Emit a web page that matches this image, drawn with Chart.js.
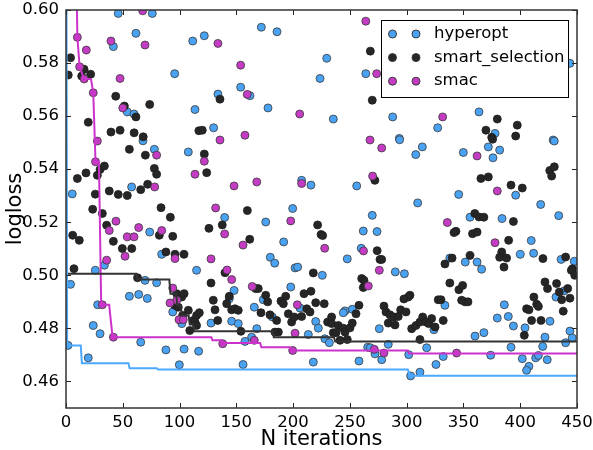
<!DOCTYPE html>
<html>
<head>
<meta charset="utf-8">
<script src="https://cdn.jsdelivr.net/npm/chart.js@4.4.1/dist/chart.umd.min.js"></script>
<style>
  html, body { margin: 0; padding: 0; background: #fff; }
  #wrap { width: 593px; height: 450px; position: relative; }
</style>
</head>
<body>
<div id="wrap"><canvas id="chart" width="593" height="450"></canvas></div>
<script>
// [iteration, logloss]
const hyperopt = [
  [46,0.5987],[76,0.5987],[61.6,0.5912],[111.6,0.5883],[41.7,0.5862],[95.7,0.576],[54,0.5616],[59.9,0.5608],[113.6,0.5625],
  [172,0.5935],[185.8,0.5918],[121.8,0.5903],[229.6,0.5818],[223.7,0.5742],[153.8,0.5709],[133.8,0.5683],[162,0.5677],[177.9,0.5631],[235.4,0.5589],[130,0.5556],
  [264,0.576],[287.7,0.5597],[327.3,0.5556],[293.5,0.5516],
  [443.8,0.5799],[363.7,0.5616],[377.8,0.5535],[429,0.551],
  [67.8,0.5507],[77.8,0.5475],[107.7,0.5465],[5.5,0.5307],[57.8,0.5333],[73.7,0.5163],[84.3,0.5079],[33.8,0.5038],[25.8,0.5019],[115,0.5019],
  [207.5,0.5358],[215.7,0.534],[199.6,0.5252],[139.7,0.5218],[175.9,0.5201],[191.7,0.5126],[179.9,0.5068],[183.8,0.5046],[201.7,0.5028],[204,0.5031],[225.7,0.5],
  [293.8,0.5511],[313.8,0.5484],[308,0.5455],[349.9,0.5463],[256,0.5337],[345.8,0.5305],[309.7,0.5273],[269.7,0.5226],[355.8,0.5219],[261.8,0.5167],[273.9,0.5165],
  [260,0.5102],[247.7,0.5062],[338,0.5065],[351.6,0.505],[290,0.5013],[298,0.5006],
  [430,0.5506],[371.9,0.5484],[381.9,0.5472],[376,0.5443],[396,0.5302],[418,0.5267],[433.9,0.5225],[384,0.5214],[409.7,0.5131],[400,0.5079],[411.8,0.5083],
  [362,0.505],[366,0.5023],[436,0.506],[447.6,0.5053],
  [69.6,0.4981],[79.8,0.4972],[4,0.4966],[55.8,0.4921],[64,0.4928],[71.6,0.4913],[94,0.4862],[102,0.4818],[24,0.4811],[30,0.478],[27.9,0.4889],
  [65.8,0.4748],[1.8,0.4736],[19.6,0.4689],[88,0.4719],[104,0.4722],[116.8,0.4714],[99.8,0.4663],
  [143.8,0.4912],[148,0.4943],[173.7,0.4908],[165.8,0.488],[181.7,0.4843],[197.9,0.4956],[206,0.4877],[219.9,0.4826],
  [222.2,0.4801],[228,0.4761],[231.9,0.4746],[168,0.4799],[163.5,0.4767],[157.6,0.4751],[213.4,0.4777],[155.9,0.4664],[217.8,0.4673],
  [127.7,0.482],[145.9,0.4827],[151.7,0.4818],
  [333.7,0.4887],[252.1,0.4872],[245.7,0.4866],[244.2,0.4859],[275.9,0.4799],[324,0.4795],[283.8,0.474],[317.6,0.4727],[265.7,0.4729],[268,0.4727],
  [272.1,0.4704],[278,0.4682],[258,0.4677],[301.8,0.4701],[332.2,0.4694],[325.8,0.4664],[311.7,0.4635],[303.5,0.4621],
  [431.5,0.4918],[438.5,0.4941],[426.2,0.4827],[404.2,0.4802],[421.8,0.4767],[419.8,0.4732],[443.8,0.479],[445.8,0.4764],[440,0.4746],[394,0.4809],
  [389.5,0.4845],[386,0.4889],[379.8,0.4839],[368,0.4784],[360.2,0.4771],[391.9,0.4729],[374,0.4699],[401.8,0.4686],[413.6,0.4689],[416,0.4698],
  [423.8,0.4682],[407.7,0.4657],[405.6,0.4642]
];

const smartSelection = [
  [4,0.582],[2,0.5755],[15.9,0.5777],[21.7,0.5758],[13.8,0.5751],[43.8,0.5675],[73.7,0.5644],[51.4,0.5638],[61.6,0.5597],[19.6,0.5577],
  [39.6,0.554],[47.6,0.5547],[60,0.5537],[68,0.5522],[117,0.5545],[135.6,0.5664],[120,0.5547],[268,0.5845],[269.7,0.566],
  [379.8,0.5589],[369.8,0.5547],[397.4,0.5566],[396,0.5525],[374.9,0.552],
  [55.8,0.5475],[69.9,0.5453],[30,0.5399],[33.8,0.5412],[27.6,0.5377],[17.6,0.5386],[10,0.5365],[77.8,0.5403],[79.8,0.5381],[71.9,0.5343],
  [65.8,0.5323],[38.1,0.5318],[46,0.5305],[54,0.5301],[25.8,0.5306],[23.5,0.5249],[83.7,0.5255],[32,0.5233],[91.9,0.5219],[35.8,0.5189],
  [82.2,0.5151],[94,0.5147],[5.9,0.5151],[11.7,0.5132],[41.7,0.5128],[49.6,0.5101],[57.9,0.5101],[88,0.5088],[96,0.5079],[103.9,0.5079],[7,0.5025],
  [121.8,0.5457],[123.9,0.5387],[159.7,0.5244],[137.6,0.519],[125.9,0.5177],[221.6,0.519],[161.8,0.5136],[224.6,0.5154],[226,0.515],[140,0.501],[217.8,0.5009],
  [272,0.5358],[343.4,0.5166],[341.7,0.5161],[274,0.5093],[276.5,0.506],[278,0.506],[340,0.5065],[333.7,0.5043],[355.8,0.5075],
  [375.7,0.5513],[426,0.5395],[430,0.5409],[427.7,0.5374],[365.4,0.5365],[371.9,0.5371],[391.9,0.534],[401.8,0.5329],[360,0.5233],[363.7,0.522],
  [368,0.5219],[394,0.5203],[358,0.5157],[362,0.5163],[389.8,0.5132],[383.7,0.5088],[381.9,0.5068],[388,0.5065],[420,0.5063],[385.7,0.5031],
  [440,0.5069],[446,0.5025],
  [63,0.4991],[97.5,0.4931],[101.9,0.4918],[104,0.4931],[96,0.4887],[98.9,0.488],[107.7,0.4868],[102.7,0.4849],[112,0.483],[115,0.4849],[109,0.4792],
  [127.7,0.4971],[129.7,0.4906],[131.2,0.487],[117.4,0.4859],[141.5,0.4893],[145.9,0.487],[148.8,0.4874],[151.7,0.4868],[167,0.495],[169.3,0.495],
  [175.9,0.4925],[177.6,0.49],[171.7,0.4859],[179.6,0.4851],[185.5,0.483],[189.3,0.4903],[191.4,0.4893],[193.5,0.4921],[195.8,0.4855],[198.7,0.4824],
  [207.5,0.4845],[201,0.4843],[209.6,0.4931],[215.7,0.494],[212,0.4874],[214.9,0.4862],[219.9,0.4897],[227.4,0.4893],[230.4,0.4824],[233.9,0.4843],
  [235.4,0.4784],[187,0.4786],[184,0.4786],[154,0.4789],[113.6,0.4824],[115,0.4811],[133.6,0.483],[143.8,0.4921],
  [260.4,0.4988],[262.4,0.4981],[261.8,0.4954],[338,0.4971],[346,0.4946],[349.3,0.4962],[351.4,0.49],[348.4,0.4906],[327.8,0.4908],[330.2,0.4908],
  [302.9,0.4925],[301.4,0.4918],[297.6,0.4911],[280,0.4884],[281.8,0.4862],[285.3,0.4851],[288.8,0.4843],[292.6,0.4845],[294.7,0.487],[299.4,0.4862],
  [283.8,0.482],[289.7,0.4813],[258,0.4887],[255.4,0.4855],[234,0.4818],[239.8,0.4811],[244.2,0.4801],[250.1,0.4802],[252.1,0.482],[237.8,0.4784],
  [245.7,0.4786],[241.3,0.4755],[247.7,0.4758],[311.7,0.4758],[304.4,0.4799],[308.2,0.4811],[311.7,0.4824],[314.1,0.4843],[317,0.4824],[319.4,0.4818],
  [322,0.4837],[325,0.4805],[332.2,0.483],
  [445,0.5019],[448,0.5],[354,0.49],[421.8,0.4975],[424,0.495],[432,0.4969],[434.4,0.4937],[441.8,0.495],[436.5,0.4908],[443.8,0.4914],[437.9,0.4865],
  [412,0.4918],[414.5,0.4891],[416,0.4883],[405.6,0.4874],[407.7,0.487],[410,0.483],[418.3,0.483],[403.6,0.4774]
];

const smac = [
  [67.5,0.5997],[39.6,0.5883],[69.6,0.5868],[17.9,0.5849],[12,0.5786],[47.6,0.5742],[16,0.574],[24,0.5688],[50,0.5631],[27.6,0.5506],[10,0.5897],
  [133.8,0.5874],[153.8,0.5792],[159.6,0.5682],[205.8,0.5608],[157.6,0.5528],[135.6,0.551],
  [264,0.5958],[273.6,0.576],[331.7,0.5597],[267.7,0.551],
  [79.8,0.5453],[26,0.5428],[113.6,0.5381],[78.1,0.5333],[44,0.5204],[64,0.518],[38.1,0.5169],[84.3,0.5169],[54,0.5145],[59.9,0.5145],
  [52,0.5072],[96,0.5063],[35.8,0.5057],
  [121.8,0.543],[148,0.5337],[168,0.5352],[207.5,0.5346],[131.8,0.5254],[197.9,0.5205],[139.7,0.5156],[155.9,0.5114],[227.8,0.5102],[127.7,0.5062],[141.8,0.502],
  [278,0.548],[270,0.5374],[335.8,0.5199],[262,0.5092],[275.9,0.5019],
  [362,0.545],[379.8,0.5318],[377.8,0.5123],
  [94,0.4952],[97.5,0.4906],[91.6,0.4896],[99.5,0.4833],[103.3,0.4833],[32,0.4889],[41.7,0.4767],
  [145.9,0.4984],[164,0.4958],[203.7,0.4889],[165.8,0.4755],[138,0.4742],[201.7,0.4782],[199.6,0.4717],
  [266.2,0.496],[271.5,0.4721],[280,0.4707],[344,0.4707]
];

// best-so-far curves
const bestHyperopt = [
  [0,0.70],[1,0.4736],[13,0.4736],[14,0.4669],[55,0.4669],[56,0.465],[80,0.465],[81,0.4645],[301,0.4645],[303,0.4622],[450,0.4622]
];
const bestSmart = [
  [0,0.5006],[62,0.5006],[63,0.4984],[91,0.4984],[92,0.4931],[97,0.4931],[98,0.4887],[101,0.4887],[102,0.4849],[108,0.4849],
  [109,0.4815],[112,0.4815],[113,0.4789],[182,0.4789],[183,0.4767],[236,0.4767],[237,0.4751],[450,0.4751]
];
const bestSmac = [
  [0,0.70],[9,0.62],[10,0.5897],[12,0.5786],[16,0.574],[22,0.574],[24,0.5688],[26,0.5428],[29,0.5428],[31,0.4889],[38,0.4889],
  [41,0.4767],[128,0.4767],[129,0.4755],[137,0.4755],[138,0.4745],[171,0.4745],[172,0.4729],[197,0.4729],[198,0.4717],[301,0.4717],[302,0.4705],[450,0.4705]
];

const xTicks = [0, 50, 100, 150, 200, 250, 300, 350, 400, 450];
const yTicks = [0.46, 0.48, 0.50, 0.52, 0.54, 0.56, 0.58, 0.60];
const seriesNames = ['hyperopt', 'smart_selection', 'smac'];

const BLUE = '#4aa2f2';
const DARK = '#262626';
const MAGENTA = '#c43cc4';
const EDGE = '#3a3a3a';

const toXY = arr => arr.map(p => ({ x: p[0], y: p[1] }));

// inward ticks on all four sides + frame
const frameTicks = {
  id: 'frameTicks',
  afterDatasetsDraw(chart) {
    const { ctx, chartArea: a, scales } = chart;
    ctx.save();
    ctx.strokeStyle = '#222';
    ctx.lineWidth = 1;
    const L = 5;
    xTicks.forEach(v => {
      const x = Math.round(scales.x.getPixelForValue(v)) + 0.5;
      ctx.beginPath();
      ctx.moveTo(x, a.bottom); ctx.lineTo(x, a.bottom - L);
      ctx.moveTo(x, a.top); ctx.lineTo(x, a.top + L);
      ctx.stroke();
    });
    yTicks.forEach(v => {
      const y = Math.round(scales.y.getPixelForValue(v)) + 0.5;
      ctx.beginPath();
      ctx.moveTo(a.left, y); ctx.lineTo(a.left + L, y);
      ctx.moveTo(a.right, y); ctx.lineTo(a.right - L, y);
      ctx.stroke();
    });
    ctx.lineWidth = 1.5;
    ctx.strokeStyle = '#333';
    ctx.strokeRect(a.left, a.top, a.right - a.left, a.bottom - a.top);
    ctx.restore();
  }
};

// matplotlib-style legend with two markers per entry
const mplLegend = {
  id: 'mplLegend',
  afterDraw(chart) {
    const { ctx, chartArea: a } = chart;
    const w = 187, h = 77;
    const x0 = a.right - 9 - w, y0 = a.top + 10;
    ctx.save();
    ctx.fillStyle = '#fff';
    ctx.fillRect(x0, y0, w, h);
    ctx.strokeStyle = '#000';
    ctx.lineWidth = 1;
    ctx.strokeRect(x0 + 0.5, y0 + 0.5, w, h);
    const fills = [BLUE, DARK, MAGENTA];
    seriesNames.forEach((name, i) => {
      const cy = y0 + 14 + i * 23.6;
      [x0 + 11.5, x0 + 35].forEach(cx => {
        ctx.beginPath();
        ctx.arc(cx, cy, 4, 0, Math.PI * 2);
        ctx.fillStyle = fills[i];
        ctx.fill();
        ctx.strokeStyle = EDGE;
        ctx.lineWidth = 1;
        ctx.stroke();
      });
      ctx.fillStyle = '#000';
      ctx.font = '16.5px "DejaVu Sans"';
      ctx.textBaseline = 'middle';
      ctx.textAlign = 'left';
      ctx.fillText(name, x0 + 53, cy);
    });
    ctx.restore();
  }
};

const scatterStyle = (label, color, order) => ({
  type: 'scatter',
  label: label,
  data: [],
  backgroundColor: color,
  borderColor: EDGE,
  borderWidth: 0.8,
  pointRadius: 4,
  order: order
});

const hypDs = scatterStyle('hyperopt', BLUE, 3);
hypDs.data = toXY(hyperopt);
const smartDs = scatterStyle('smart_selection', DARK, 2);
smartDs.data = toXY(smartSelection);
smartDs.borderColor = '#1e1e1e';
const smacDs = scatterStyle('smac', MAGENTA, 1);
smacDs.data = toXY(smac);

const lineDs = (data, color) => ({
  type: 'line',
  data: toXY(data),
  borderColor: color,
  borderWidth: 2,
  pointRadius: 0,
  fill: false,
  tension: 0,
  order: 0
});

const canvas = document.getElementById('chart');
new Chart(canvas, {
  type: 'scatter',
  data: {
    datasets: [
      lineDs(bestHyperopt, '#4da8ff'),
      lineDs(bestSmart, '#333333'),
      lineDs(bestSmac, '#cc33cc'),
      hypDs, smartDs, smacDs
    ]
  },
  options: {
    responsive: false,
    animation: false,
    events: [],
    layout: { padding: { top: 10, right: 16, left: 0, bottom: 0 } },
    plugins: { legend: { display: false }, tooltip: { enabled: false } },
    scales: {
      x: {
        type: 'linear',
        min: 0, max: 450,
        afterBuildTicks: s => { s.ticks = xTicks.map(v => ({ value: v })); },
        afterFit: s => { s.height = 42; s.paddingLeft = 0; s.paddingRight = 0; },
        grid: { display: false, drawTicks: false },
        border: { display: false },
        ticks: { color: '#000', padding: 5, font: { family: 'DejaVu Sans', size: 16.5 }, maxRotation: 0 },
        title: { display: true, text: 'N iterations', color: '#000', font: { family: 'DejaVu Sans', size: 21, lineHeight: 1 }, padding: { top: 0, bottom: 0 } }
      },
      y: {
        type: 'linear',
        min: 0.45, max: 0.60,
        afterBuildTicks: s => { s.ticks = yTicks.map(v => ({ value: v })); },
        afterFit: s => { s.width = 66; s.paddingTop = 0; s.paddingBottom = 0; },
        grid: { display: false, drawTicks: false },
        border: { display: false },
        ticks: { color: '#000', padding: 7, font: { family: 'DejaVu Sans', size: 16.5 }, callback: v => v.toFixed(2) },
        title: { display: true, text: 'logloss', color: '#000', font: { family: 'DejaVu Sans', size: 21, lineHeight: 1 }, padding: { top: 5, bottom: 0 } }
      }
    }
  },
  plugins: [frameTicks, mplLegend]
});
</script>
</body>
</html>
